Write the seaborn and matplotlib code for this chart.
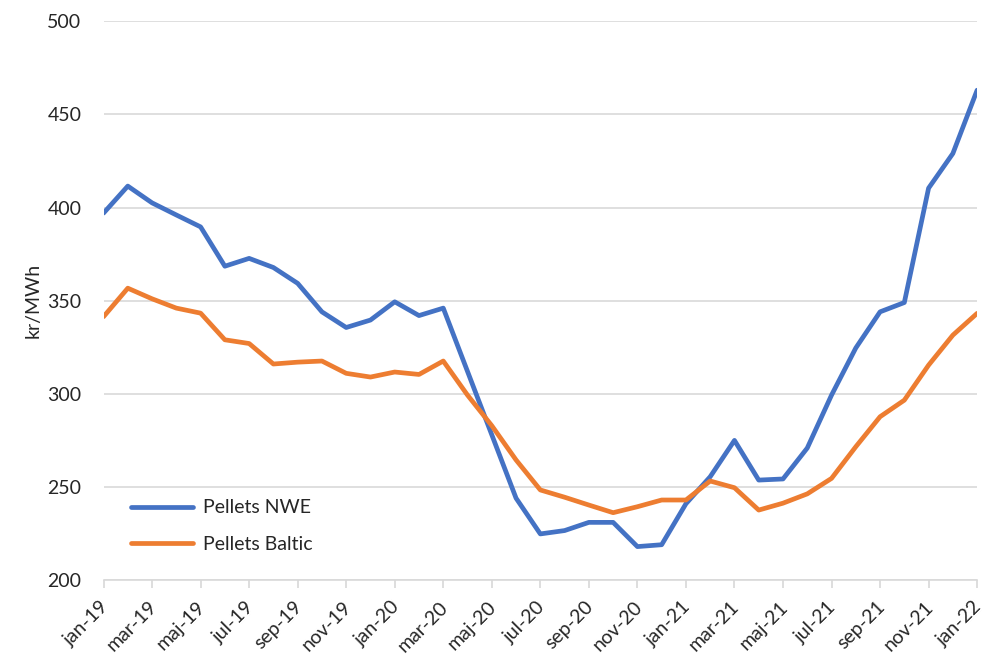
import matplotlib.pyplot as plt
import matplotlib.transforms as mtransforms
import pandas as pd
import seaborn as sns

MONTHS = ["jan", "feb", "mar", "apr", "maj", "jun", "jul", "aug", "sep", "okt", "nov", "dec"]
month_labels = [f"{MONTHS[i % 12]}-{19 + i // 12}" for i in range(37)]

pellets_nwe = [
    397, 411.5, 402.5, 396, 389.6, 368.5, 372.7, 367.8, 359.3, 344, 335.6, 339.6,
    349.4, 342, 346, 312, 278, 244, 224.8, 226.6, 231, 231, 218, 219,
    241, 255.5, 275, 253.7, 254.3, 270.9, 299.3, 324.6, 344, 349, 410.4, 429,
    463,
]
pellets_baltic = [
    341.4, 356.7, 351, 346, 343.3, 329, 327, 316, 317, 317.6, 311, 309,
    311.7, 310.4, 317.6, 299.3, 282.9, 264.5, 248.4, 244.5, 240.3, 236.2, 239.4, 243,
    243, 253.2, 249.6, 237.6, 241.3, 246.3, 254.6, 271.6, 287.7, 296.6, 315.4, 331.5,
    343.2,
]
series_names = ["Pellets NWE", "Pellets Baltic"]
colors = ["#4472C4", "#ED7D31"]

df = pd.DataFrame({
    "month": list(range(37)) * 2,
    "price": pellets_nwe + pellets_baltic,
    "series": [series_names[0]] * 37 + [series_names[1]] * 37,
})

sns.set_theme(style="white")
plt.rcParams["font.family"] = ["Lato", "DejaVu Sans"]

fig = plt.figure(figsize=(9.86, 6.63), dpi=100)
ax = fig.add_axes([0.105, 0.125, 0.886, 0.843])

sns.lineplot(data=df, x="month", y="price", hue="series", palette=colors,
             linewidth=3.4, ax=ax, solid_capstyle="round")

ax.set_xlim(0, 36)
ax.set_ylim(200, 500)
ax.set_yticks(range(200, 501, 50))
ax.yaxis.grid(True, color="#D9D9D9", linewidth=1.2)
ax.set_axisbelow(True)

ax.set_xticks(range(0, 37, 2))
ax.set_xticklabels(month_labels[::2], rotation=45, ha="right", rotation_mode="anchor")
ax.tick_params(axis="x", bottom=True, length=6, color="#D9D9D9", labelsize=14, pad=7)
ax.tick_params(axis="y", left=False, labelsize=14, pad=10)

# nudge rotated labels a bit left so the last one stays inside the figure
shift = mtransforms.ScaledTranslation(-4 / 100, 0, fig.dpi_scale_trans)
for lbl in ax.get_xticklabels():
    lbl.set_transform(lbl.get_transform() + shift)

for side in ["top", "right", "left"]:
    ax.spines[side].set_visible(False)
ax.spines["bottom"].set_color("#D9D9D9")
ax.spines["bottom"].set_linewidth(1.2)

ax.set_xlabel("")
ax.set_ylabel("kr/MWh", fontsize=14, labelpad=4)

ax.legend(frameon=False, loc="lower left", bbox_to_anchor=(0.0, 0.0),
          fontsize=14, handlelength=3.2, handletextpad=0.5, labelspacing=1.0,
          borderaxespad=1.0)

fig.savefig("out.png", dpi=100)
